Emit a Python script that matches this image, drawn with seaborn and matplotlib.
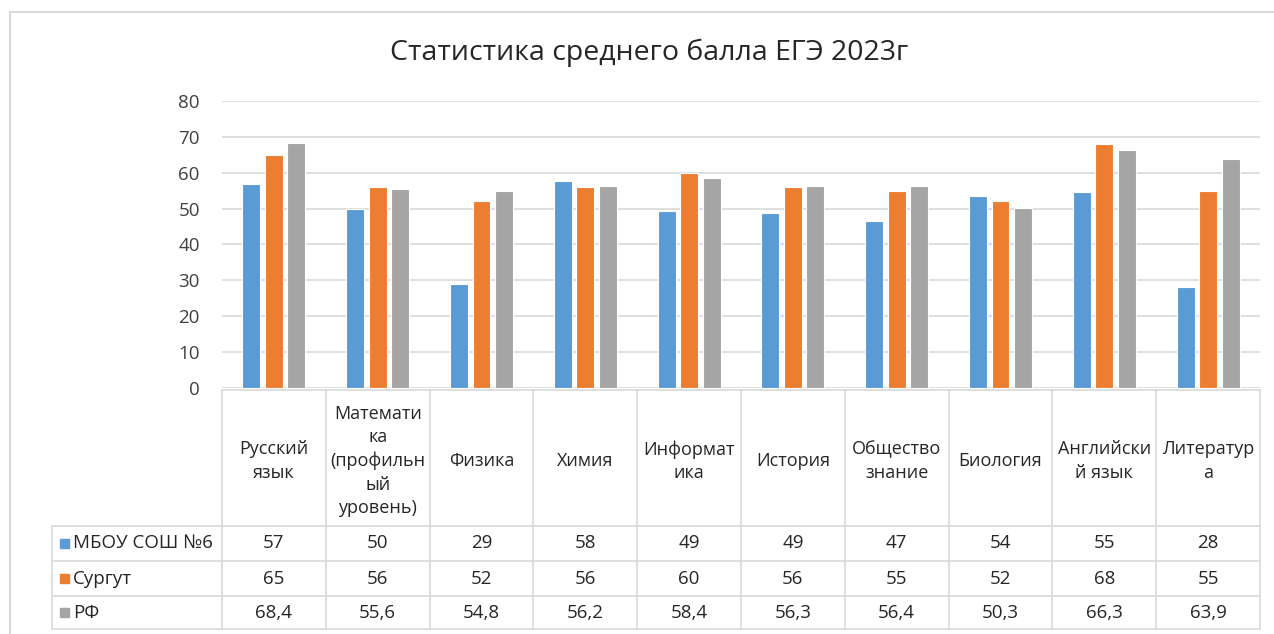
import matplotlib
matplotlib.use("Agg")
import matplotlib.pyplot as plt
import seaborn as sns
import pandas as pd
import numpy as np

# data (table shows school/Surgut rounded to integers)
subjects = ["Русский\nязык", "Математи\nка\n(профильн\nый\nуровень)", "Физика", "Химия",
            "Информат\nика", "История", "Общество\nзнание", "Биология",
            "Английски\nй язык", "Литератур\nа"]
school = [56.8, 49.9, 29.1, 57.6, 49.2, 48.9, 46.6, 53.6, 54.6, 28.1]
surgut = [65, 56, 52, 56, 60, 56, 55, 52, 68, 55]
rf = [68.4, 55.6, 54.8, 56.2, 58.4, 56.3, 56.4, 50.3, 66.3, 63.9]
series_names = ["МБОУ СОШ №6", "Сургут", "РФ"]
colors = ["#5B9BD5", "#ED7D31", "#A5A5A5"]
yticks = [0, 10, 20, 30, 40, 50, 60, 70, 80]

df = pd.DataFrame({
    "subject": subjects * 3,
    "value": school + surgut + rf,
    "series": [series_names[0]] * 10 + [series_names[1]] * 10 + [series_names[2]] * 10,
})

sns.set_style("white")
plt.rcParams["font.family"] = ["Open Sans", "DejaVu Sans"]

W, H = 1274, 634
fig = plt.figure(figsize=(W / 100, H / 100), dpi=100)

# pixel layout of the plot area
x0, x1 = 222, 1260
y_top, y_zero = 101, 388
ax = fig.add_axes([x0 / W, 1 - y_zero / H, (x1 - x0) / W, (y_zero - y_top) / H])

sns.barplot(data=df, x="subject", y="value", hue="series", palette=colors,
            saturation=1, width=0.65, gap=0.2, edgecolor="white", linewidth=0.8,
            ax=ax, legend=False, zorder=3)
ax.set_xlim(-0.5, 9.5)
ax.set_ylim(0, 80)
ax.set_yticks(yticks)
ax.set_yticklabels([str(t) for t in yticks], fontsize=13.5, color="#404040")
ax.tick_params(axis="y", length=0, pad=16)
ax.set_xticks([])
ax.set_xlabel("")
ax.set_ylabel("")
ax.grid(axis="y", color="#D9D9D9", linewidth=1.2, zorder=0)
for s in ax.spines.values():
    s.set_visible(False)

# overlay in pixel coordinates for the frame, title and data table
ov = fig.add_axes([0, 0, 1, 1], zorder=-1)
ov.set_xlim(0, W)
ov.set_ylim(H, 0)
ov.axis("off")

ov.plot([10, 10, W], [H, 12, 12], color="#D9D9D9", linewidth=1.5)
ov.text(649, 53, "Статистика среднего балла ЕГЭ 2023г", ha="center", va="center",
        fontsize=20.5, color="#262626")

line_c = "#D9D9D9"
col_w = (x1 - x0) / 10
row_y = [390, 526, 561, 596, 629]
tx0 = 52
# horizontal lines
ov.plot([x0, x1], [row_y[0], row_y[0]], color=line_c, linewidth=1.2)
for y in row_y[1:]:
    ov.plot([tx0, x1], [y, y], color=line_c, linewidth=1.2)
# vertical lines
for i in range(11):
    xv = x0 + i * col_w
    ov.plot([xv, xv], [row_y[0], row_y[-1]], color=line_c, linewidth=1.2)
ov.plot([tx0, tx0], [row_y[1], row_y[-1]], color=line_c, linewidth=1.2)

txt_c = "#262626"
for i, name in enumerate(subjects):
    cx = x0 + (i + 0.5) * col_w
    ov.text(cx, (row_y[0] + row_y[1]) / 2 + 3, name, ha="center", va="center",
            fontsize=13, color=txt_c, linespacing=1.38)

rows = [school, surgut, rf]
fmts = ["{:.0f}", "{:.0f}", "{:.1f}"]
for r, (vals, fmt) in enumerate(zip(rows, fmts)):
    cy = (row_y[r + 1] + row_y[r + 2]) / 2
    ov.add_patch(plt.Rectangle((60, cy - 4.5), 9, 9, color=colors[r]))
    ov.text(73, cy, series_names[r], ha="left", va="center", fontsize=13.5, color=txt_c)
    for i, v in enumerate(vals):
        cx = x0 + (i + 0.5) * col_w
        ov.text(cx, cy, fmt.format(v).replace(".", ","), ha="center", va="center",
                fontsize=13.5, color=txt_c)

fig.savefig("out.png", dpi=100)
